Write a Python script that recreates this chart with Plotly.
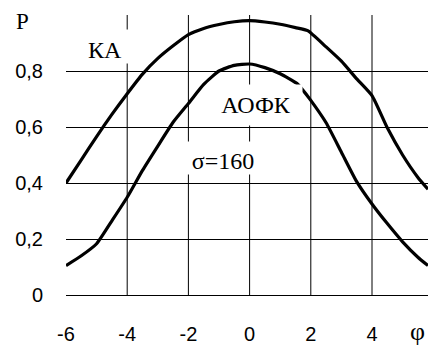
import plotly.graph_objects as go

# Data
phi_ka = [-6, -5.5, -5, -4.5, -4, -3.5, -3, -2.5, -2, -1.5, -1, -0.5, 0,
          0.5, 1, 1.5, 1.9, 2.5, 3, 3.5, 4, 4.5, 5, 5.5, 5.83]
p_ka = [0.400, 0.483, 0.566, 0.645, 0.719, 0.789, 0.845, 0.890, 0.930, 0.952,
        0.966, 0.976, 0.980, 0.975, 0.967, 0.955, 0.944, 0.886, 0.835, 0.772,
        0.712, 0.597, 0.500, 0.420, 0.378]

phi_aofk = [-6, -5.5, -5, -4.5, -4, -3.5, -3, -2.5, -2, -1.5, -1, -0.5, 0,
            0.5, 1, 1.55, 1.7, 2, 2.5, 3, 3.5, 4, 4.5, 5, 5.5, 5.83]
p_aofk = [0.105, 0.140, 0.183, 0.265, 0.349, 0.445, 0.532, 0.617, 0.684, 0.752,
          0.800, 0.820, 0.825, 0.812, 0.790, 0.755, 0.737, 0.695, 0.615, 0.510,
          0.405, 0.325, 0.255, 0.190, 0.135, 0.105]

x_ticks = [-6, -4, -2, 0, 2, 4]
x_tick_text = ["-6", "-4", "-2", "0", "2", "4"]
x_grid = [-4, -2, 0, 2, 4]
y_ticks = [0, 0.2, 0.4, 0.6, 0.8]
y_tick_text = ["0", "0,2", "0,4", "0,6", "0,8"]

SANS = "Liberation Sans, Arial, sans-serif"
SERIF = "Liberation Serif"

fig = go.Figure()
for xs, ys in [(phi_ka, p_ka), (phi_aofk, p_aofk)]:
    fig.add_trace(go.Scatter(x=xs, y=ys, mode="lines",
                             line=dict(color="black", width=3.2, shape="spline", smoothing=0.5),
                             showlegend=False, hoverinfo="skip"))

shapes = [dict(type="line", xref="x", yref="y", x0=v, x1=v, y0=0, y1=1,
               line=dict(color="black", width=1), layer="between") for v in x_grid]

lbl_font = dict(family=SERIF, size=24, color="black")
annotations = [
    dict(text="P", xref="paper", yref="paper", x=-0.1215, y=0.978, showarrow=False,
         font=dict(family=SERIF, size=23, color="black"), xanchor="center", yanchor="middle"),
    dict(text="φ", xref="paper", yref="paper", x=0.972, y=-0.13, showarrow=False,
         font=dict(family=SERIF, size=26, color="black"), xanchor="center", yanchor="middle"),
    dict(text="КА", xref="x", yref="y", x=-4.742, y=0.8875, showarrow=False,
         font=lbl_font, bgcolor="white", borderpad=0, width=52, height=33, valign="bottom"),
    dict(text="АОФК", xref="x", yref="y", x=0.209, y=0.6786, showarrow=False,
         font=lbl_font, bgcolor="white", borderpad=0, width=92, height=40),
    dict(text="σ=160", xref="x", yref="y", x=-0.856, y=0.489, showarrow=False,
         font=lbl_font, bgcolor="white", borderpad=0, width=74, height=32, valign="bottom"),
]

fig.update_layout(
    width=428, height=345,
    margin=dict(l=66, r=0, t=15, b=50),
    paper_bgcolor="white", plot_bgcolor="white",
    shapes=shapes, annotations=annotations,
    xaxis=dict(range=[-6, 5.83], tickvals=x_ticks, ticktext=x_tick_text,
               showgrid=False, zeroline=False, showline=False, ticks="",
               ticklabelstandoff=25, tickfont=dict(family=SANS, size=20, color="black")),
    yaxis=dict(range=[0, 1], tickvals=y_ticks, ticktext=y_tick_text,
               showgrid=True, gridcolor="black", gridwidth=1,
               zeroline=True, zerolinecolor="black", zerolinewidth=1,
               showline=False, ticks="", ticklabelstandoff=22,
               tickfont=dict(family=SANS, size=20, color="black")),
)

fig.write_html("out.html", config={"displayModeBar": False},
               post_script="document.body.style.margin='0';document.body.style.overflow='hidden';")
